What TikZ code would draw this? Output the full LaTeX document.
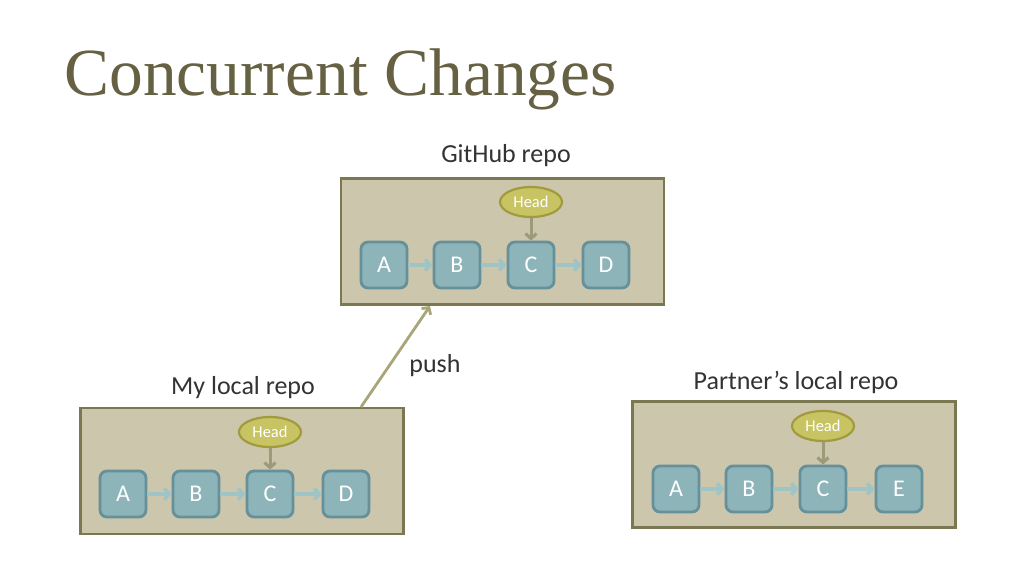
\documentclass[tikz,border=0pt]{standalone}
\usepackage{fontspec}
\setmainfont{Carlito}
\newfontfamily\titlefont{Liberation Serif}
\usetikzlibrary{arrows.meta,shapes.geometric}
\definecolor{titlec}{HTML}{666143}
\definecolor{textc}{HTML}{333333}
\definecolor{repofill}{HTML}{CBC6AC}
\definecolor{repoline}{HTML}{7A7850}
\definecolor{comfill}{HTML}{8CB4B9}
\definecolor{comline}{HTML}{66909A}
\definecolor{linkc}{HTML}{9EC4C6}
\definecolor{headfill}{HTML}{C8C464}
\definecolor{headline}{HTML}{A09B3C}
\definecolor{headarr}{HTML}{9C9A78}
\definecolor{pushc}{HTML}{A8A678}
\pgfdeclareradialshading{vign}{\pgfpoint{0bp}{0bp}}{color(0bp)=(white);color(38bp)=(white);color(72bp)=(black!22)}
\tikzset{
  repobox/.style={draw=repoline, fill=repofill, line width=2.5pt, minimum width=323, minimum height=126, inner sep=0},
  commit/.style={draw=comline, fill=comfill, line width=2.8pt, rounded corners=7pt, minimum width=46, minimum height=46, inner sep=0, text=white, font=\fontsize{24}{24}\selectfont},
  headnode/.style={ellipse, draw=headline, fill=headfill, line width=2.2pt, minimum width=62, minimum height=30, inner sep=0, text=white, font=\fontsize{16.5}{16.5}\selectfont},
  link/.style={draw=linkc, line width=3.5pt, -{Straight Barb[length=5pt,width=11pt]}},
  headlink/.style={draw=headarr, line width=3pt, -{Straight Barb[length=5pt,width=11pt]}},
  pushlink/.style={draw=pushc, line width=2.8pt, -{Straight Barb[length=5pt,width=11pt]}},
  label/.style={text=textc, font=\fontsize{26}{26}\selectfont},
}
\begin{document}
\begin{tikzpicture}[x=1pt,y=-1pt]
\useasboundingbox (0,0) rectangle (1024,576);
\shade[shading=vign] (0,0) rectangle (1024,576);

\node[anchor=base west, text=titlec, font=\titlefont\fontsize{67.4}{70}\selectfont] (title) at (61,95) {Concurrent Changes};

% GitHub repo
\node[label] (ghlab) at (506,156) {GitHub repo};
\node[repobox] (gh) at (502.5,241.5) {};
\node[commit] (gA) at (384,265) {A};
\node[commit] (gB) at (457,265) {B};
\node[commit] (gC) at (531,265) {C};
\node[commit] (gD) at (606,265) {D};
\node[headnode] (gH) at (531,202) {Head};
\draw[link] (gA) -- (gB);
\draw[link] (gB) -- (gC);
\draw[link] (gC) -- (gD);
\draw[headlink] (gH) -- (gC);

% My local repo
\node[label] (mylab) at (243,388) {My local repo};
\node[repobox] (my) at (242,471) {};
\node[commit] (mA) at (123,494) {A};
\node[commit] (mB) at (196,494) {B};
\node[commit] (mC) at (270,494) {C};
\node[commit] (mD) at (346,494) {D};
\node[headnode] (mH) at (270,432) {Head};
\draw[link] (mA) -- (mB);
\draw[link] (mB) -- (mC);
\draw[link] (mC) -- (mD);
\draw[headlink] (mH) -- (mC);

% Partner's local repo
\node[label] (ptlab) at (796,382) {Partner’s local repo};
\node[repobox] (pt) at (794,464.5) {};
\node[commit] (pA) at (676,489) {A};
\node[commit] (pB) at (749,489) {B};
\node[commit] (pC) at (823,489) {C};
\node[commit] (pE) at (899,489) {E};
\node[headnode] (pH) at (823,426) {Head};
\draw[link] (pA) -- (pB);
\draw[link] (pB) -- (pC);
\draw[link] (pC) -- (pE);
\draw[headlink] (pH) -- (pC);

% push
\coordinate (ps) at (361,407);
\coordinate (pe) at (430,306);
\draw[pushlink] (ps) -- (pe);
\node[label] (pushlab) at (435,366) {push};
\end{tikzpicture}
\end{document}
